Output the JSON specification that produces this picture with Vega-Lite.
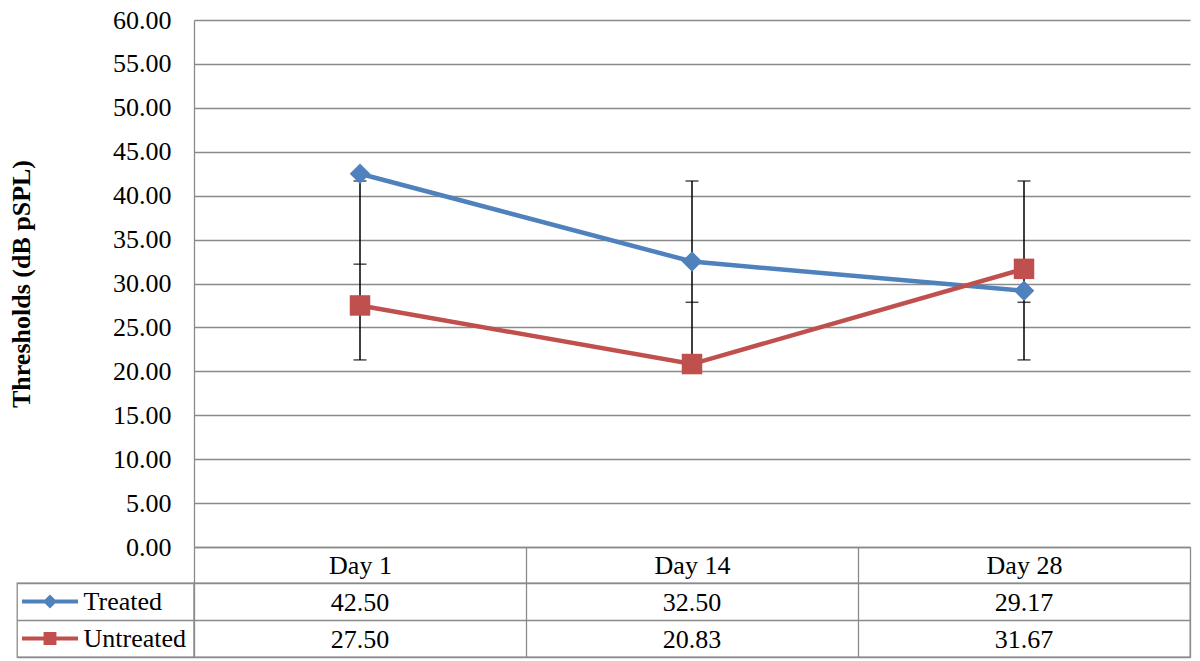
{
  "$schema": "https://vega.github.io/schema/vega-lite/v6.json",
  "padding": {"left": 8, "top": 7, "right": 8, "bottom": 4},
  "background": "white",
  "config": {
    "font": "Liberation Serif",
    "view": {"stroke": null},
    "axis": {
      "labelFont": "Liberation Serif",
      "titleFont": "Liberation Serif",
      "labelColor": "black",
      "titleColor": "black",
      "labelFontSize": 26,
      "titleFontSize": 26,
      "gridColor": "#8a8a8a",
      "domainColor": "#8a8a8a",
      "tickColor": "#8a8a8a",
      "gridWidth": 1.3,
      "domainWidth": 1.3,
      "tickWidth": 1.3
    }
  },
  "datasets": {
    "series": [
      {"series": "Treated", "day": "Day 1", "value": 42.5},
      {"series": "Treated", "day": "Day 14", "value": 32.5},
      {"series": "Treated", "day": "Day 28", "value": 29.17},
      {"series": "Untreated", "day": "Day 1", "value": 27.5},
      {"series": "Untreated", "day": "Day 14", "value": 20.83},
      {"series": "Untreated", "day": "Day 28", "value": 31.67}
    ],
    "errbars": [
      {"day": "Day 1", "lo": 21.3, "hi": 41.67},
      {"day": "Day 14", "lo": 20.83, "hi": 41.67},
      {"day": "Day 28", "lo": 21.3, "hi": 41.67}
    ],
    "caps": [
      {"day": "Day 1", "v": 41.67},
      {"day": "Day 1", "v": 32.2},
      {"day": "Day 1", "v": 21.3},
      {"day": "Day 14", "v": 41.67},
      {"day": "Day 14", "v": 27.86},
      {"day": "Day 28", "v": 41.67},
      {"day": "Day 28", "v": 27.86},
      {"day": "Day 28", "v": 21.3}
    ],
    "legend": [
      {"series": "Treated"},
      {"series": "Untreated"}
    ]
  },
  "columns": 2,
  "bounds": "flush",
  "spacing": {"row": 36, "column": 0},
  "concat": [
    {
      "width": 177,
      "height": 527,
      "data": {"values": []},
      "mark": "point"
    },
    {
      "width": 996,
      "height": 527,
      "layer": [
        {
          "data": {"name": "errbars"},
          "mark": {"type": "rule", "color": "black", "strokeWidth": 1.5},
          "encoding": {
            "x": {
              "field": "day", "type": "nominal",
              "scale": {"type": "band", "domain": ["Day 1", "Day 14", "Day 28"], "paddingInner": 0, "paddingOuter": 0},
              "axis": {
                "orient": "bottom", "title": null, "labelAngle": 0, "grid": false,
                "ticks": true, "tickBand": "extent", "tickSize": 36,
                "labelPadding": -18, "labelBaseline": "middle", "domain": true
              }
            },
            "y": {
              "field": "lo", "type": "quantitative",
              "scale": {"domain": [0, 60], "nice": false, "zero": true},
              "axis": {
                "title": "Thresholds (dB pSPL)", "titleFontWeight": "bold",
                "values": [0, 5, 10, 15, 20, 25, 30, 35, 40, 45, 50, 55, 60],
                "format": ".2f", "grid": true, "ticks": false, "domain": true,
                "labelPadding": 23, "titlePadding": 78
              }
            },
            "y2": {"field": "hi"}
          }
        },
        {
          "data": {"name": "caps"},
          "mark": {"type": "tick", "color": "black", "thickness": 1.5, "size": 13, "orient": "horizontal"},
          "encoding": {
            "x": {"field": "day", "type": "nominal"},
            "y": {"field": "v", "type": "quantitative"}
          }
        },
        {
          "data": {"name": "series"},
          "mark": {"type": "line", "strokeWidth": 4.5},
          "encoding": {
            "x": {"field": "day", "type": "nominal"},
            "y": {"field": "value", "type": "quantitative"},
            "color": {
              "field": "series", "type": "nominal",
              "scale": {"domain": ["Treated", "Untreated"], "range": ["#4F81BD", "#C0504D"]},
              "legend": null
            }
          }
        },
        {
          "data": {"name": "series"},
          "mark": {"type": "point", "filled": true, "size": 420, "opacity": 1, "strokeWidth": 0},
          "encoding": {
            "x": {"field": "day", "type": "nominal"},
            "y": {"field": "value", "type": "quantitative"},
            "color": {"field": "series", "type": "nominal", "legend": null},
            "shape": {
              "field": "series", "type": "nominal",
              "scale": {"domain": ["Treated", "Untreated"], "range": ["diamond", "square"]},
              "legend": null
            }
          }
        }
      ]
    },
    {
      "width": 177,
      "height": 74,
      "view": {"stroke": "#8a8a8a", "strokeWidth": 1.3},
      "data": {"name": "legend"},
      "mark": {"type": "point", "filled": true, "size": 3136, "xOffset": -55.5, "strokeWidth": 0, "opacity": 1},
      "encoding": {
        "y": {
          "field": "series", "type": "nominal",
          "scale": {"type": "band", "domain": ["Treated", "Untreated"], "paddingInner": 0, "paddingOuter": 0},
          "axis": {
            "orient": "left", "title": null, "labelAlign": "left", "labelBaseline": "middle",
            "labelPadding": -66, "ticks": false, "domain": false,
            "grid": true, "tickBand": "extent"
          }
        },
        "shape": {
          "condition": {"test": "datum.series === 'Treated'", "value": "M-1,-0.071L1,-0.071L1,0.071L-1,0.071Z M0,-0.25L0.25,0L0,0.25L-0.25,0Z"},
          "value": "M-1,-0.071L1,-0.071L1,0.071L-1,0.071Z M-0.23,-0.23L0.23,-0.23L0.23,0.23L-0.23,0.23Z"
        },
        "color": {
          "condition": {"test": "datum.series === 'Treated'", "value": "#4F81BD"},
          "value": "#C0504D"
        }
      }
    },
    {
      "width": 996,
      "height": 74,
      "view": {"stroke": "#8a8a8a", "strokeWidth": 1.3},
      "data": {"name": "series"},
      "mark": {"type": "text", "fontSize": 26, "font": "Liberation Serif", "color": "black", "dy": 1},
      "encoding": {
        "x": {
          "field": "day", "type": "nominal",
          "scale": {"type": "band", "domain": ["Day 1", "Day 14", "Day 28"], "paddingInner": 0, "paddingOuter": 0},
          "axis": {"grid": true, "tickBand": "extent", "labels": false, "ticks": false, "domain": false, "title": null}
        },
        "y": {
          "field": "series", "type": "nominal",
          "scale": {"type": "band", "domain": ["Treated", "Untreated"], "paddingInner": 0, "paddingOuter": 0},
          "axis": {"grid": true, "tickBand": "extent", "labels": false, "ticks": false, "domain": false, "title": null}
        },
        "text": {"field": "value", "type": "quantitative", "format": ".2f"}
      }
    }
  ]
}
